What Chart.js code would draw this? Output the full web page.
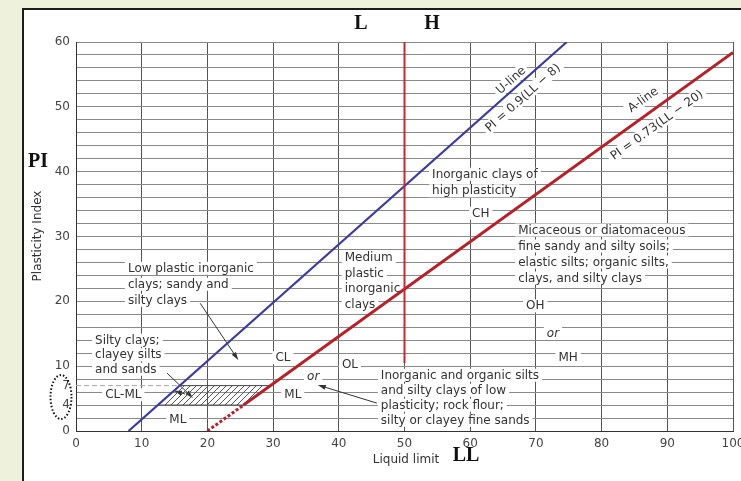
<!DOCTYPE html>
<html>
<head>
<meta charset="utf-8">
<script src="https://cdn.jsdelivr.net/npm/chart.js@4"></script>
<style>
  html, body { margin: 0; padding: 0; background: #eef1dc; overflow: hidden; }
  #wrap { position: absolute; left: 0; top: 0; width: 760px; height: 481px; }
</style>
</head>
<body>
<div id="wrap"><canvas id="chart" width="760" height="481"></canvas></div>
<script>
// ---- Plasticity chart data (liquid limit LL vs plasticity index PI) ----
const llTickValues = [0, 10, 20, 30, 40, 50, 60, 70, 80, 90, 100];
const piLabelValues = [0, 4, 7, 10, 20, 30, 40, 50, 60];

// U-line: PI = 0.9(LL - 8)
const uLineLL = [8, 74.7];
const uLinePI = [0, 60];
// A-line: PI = 0.73(LL - 20), dashed below PI = 4
const aLineLL = [20, 25.5, 100];
const aLinePI = [0, 4, 58.4];
// Low / high plasticity boundary at LL = 50
const boundaryLL = [50, 50];
const boundaryPI = [10.5, 60];
// CL-ML zone between PI 4 and 7
const clmlLL = [12.4, 25.5, 29.6, 15.8];
const clmlPI = [4, 4, 7, 7];
// PI = 7 guide
const pi7LL = [0, 15.8];
const pi7PI = [7, 7];

const pts = (xs, ys) => xs.map((x, i) => ({ x, y: ys[i] }));

// Zone descriptions (anchored in LL / PI units)
const blockNotes = [
  { lines: ['Inorganic clays of', 'high plasticity'], ll: 54.2, pi: 39.6, lh: 16.5 },
  { lines: ['Micaceous or diatomaceous', 'fine sandy and silty soils;', 'elastic silts; organic silts,', 'clays, and silty clays'], ll: 67.3, pi: 31.0, lh: 16 },
  { lines: ['Medium', 'plastic', 'inorganic', 'clays'], ll: 40.9, pi: 26.8, lh: 15.7 },
  { lines: ['Low plastic inorganic', 'clays; sandy and', 'silty clays'], ll: 7.9, pi: 25.1, lh: 16 },
  { lines: ['Silty clays;', 'clayey silts', 'and sands'], ll: 2.9, pi: 14.0, lh: 14.5 },
  { lines: ['Inorganic and organic silts', 'and silty clays of low', 'plasticity; rock flour;', 'silty or clayey fine sands'], ll: 46.4, pi: 8.6, lh: 15 }
];
const symbolNotes = [
  { text: 'CH', ll: 61.6, pi: 33.6 },
  { text: 'OH', ll: 69.9, pi: 19.3 },
  { text: 'or', ll: 72.6, pi: 15.1, italic: true },
  { text: 'MH', ll: 74.9, pi: 11.3 },
  { text: 'CL', ll: 31.5, pi: 11.3 },
  { text: 'OL', ll: 41.7, pi: 10.2 },
  { text: 'or', ll: 36.1, pi: 8.5, italic: true },
  { text: 'ML', ll: 33.0, pi: 5.6 },
  { text: 'CL-ML', ll: 7.2, pi: 5.6 },
  { text: 'ML', ll: 15.5, pi: 1.85 }
];
const lineNotes = [
  { text: 'U-line', ll: 66.2, pi: 54.1, along: 'u' },
  { text: 'PI = 0.9(LL − 8)', ll: 68.0, pi: 51.4, along: 'u' },
  { text: 'A-line', ll: 86.3, pi: 51.1, along: 'a' },
  { text: 'PI = 0.73(LL − 20)', ll: 88.4, pi: 47.2, along: 'a' }
];
const arrows = [
  { from: [18.9, 19.7], to: [24.7, 10.95] },
  { from: [13.85, 8.95], to: [17.8, 5.1] },
  { from: [16.6, 5.7], to: [14.9, 6.2] },
  { from: [45.8, 4.3], to: [36.8, 7.1] }
];

// Diagonal hatch for the CL-ML zone
function hatchPattern() {
  const n = 6;
  const c = document.createElement('canvas');
  c.width = n; c.height = n;
  const g = c.getContext('2d');
  g.strokeStyle = '#555';
  g.lineWidth = 1;
  g.beginPath();
  g.moveTo(0, n); g.lineTo(n, 0);
  g.moveTo(-1, 1); g.lineTo(1, -1);
  g.moveTo(n - 1, n + 1); g.lineTo(n + 1, n - 1);
  g.stroke();
  return g.createPattern(c, 'repeat');
}

const SANS = '"DejaVu Sans", "Liberation Sans", sans-serif';
const SERIF = '"Liberation Serif", "DejaVu Serif", serif';
const TEXT = '#333333';

function boxedText(ctx, text, x, y, align, italic) {
  ctx.font = (italic ? 'italic ' : '') + '12px ' + SANS;
  const w = ctx.measureText(text).width;
  const left = align === 'center' ? x - w / 2 : x;
  ctx.fillStyle = '#ffffff';
  ctx.fillRect(left - 3, y - 6.5, w + 6, 13);
  ctx.fillStyle = TEXT;
  ctx.textAlign = 'left';
  ctx.textBaseline = 'middle';
  ctx.fillText(text, left, y + 0.5);
}

function arrow(ctx, x0, y0, x1, y1) {
  const a = Math.atan2(y1 - y0, x1 - x0);
  ctx.strokeStyle = '#333';
  ctx.fillStyle = '#333';
  ctx.lineWidth = 1;
  ctx.beginPath();
  ctx.moveTo(x0, y0);
  ctx.lineTo(x1 - 5 * Math.cos(a), y1 - 5 * Math.sin(a));
  ctx.stroke();
  ctx.beginPath();
  ctx.moveTo(x1, y1);
  ctx.lineTo(x1 - 8 * Math.cos(a) + 2.5 * Math.sin(a), y1 - 8 * Math.sin(a) - 2.5 * Math.cos(a));
  ctx.lineTo(x1 - 8 * Math.cos(a) - 2.5 * Math.sin(a), y1 - 8 * Math.sin(a) + 2.5 * Math.cos(a));
  ctx.closePath();
  ctx.fill();
}

const decorations = {
  id: 'decorations',
  beforeDraw(chart) {
    const ctx = chart.ctx;
    const W = chart.width, H = chart.height;
    ctx.save();
    ctx.fillStyle = '#eef1dc';
    ctx.fillRect(0, 0, W, H);
    ctx.fillStyle = '#ffffff';
    ctx.fillRect(22, 8, W, H);
    ctx.strokeStyle = '#1c1c1c';
    ctx.lineWidth = 2;
    ctx.beginPath();
    ctx.moveTo(23, H); ctx.lineTo(23, 9); ctx.lineTo(W, 9);
    ctx.stroke();
    ctx.restore();
  },
  beforeDatasetsDraw(chart) {
    const ctx = chart.ctx;
    const xs = chart.scales.x, ys = chart.scales.y;
    const px = v => xs.getPixelForValue(v);
    const py = v => ys.getPixelForValue(v);
    ctx.save();
    blockNotes.forEach(b => {
      b.lines.forEach((t, i) => boxedText(ctx, t, px(b.ll), py(b.pi) + i * b.lh, 'left'));
    });
    symbolNotes.forEach(s => boxedText(ctx, s.text, px(s.ll), py(s.pi), 'center', s.italic));

    const ang = (lx, ly) => Math.atan2(py(ly[ly.length - 1]) - py(ly[0]), px(lx[lx.length - 1]) - px(lx[0]));
    const angles = { u: ang(uLineLL, uLinePI), a: ang(aLineLL, aLinePI) };
    lineNotes.forEach(n => {
      ctx.save();
      ctx.translate(px(n.ll), py(n.pi));
      ctx.rotate(angles[n.along]);
      boxedText(ctx, n.text, 0, 0, 'center');
      ctx.restore();
    });
    arrows.forEach(a => arrow(ctx, px(a.from[0]), py(a.from[1]), px(a.to[0]), py(a.to[1])));
    ctx.restore();
  },
  afterDraw(chart) {
    const ctx = chart.ctx;
    ctx.save();
    ctx.fillStyle = '#111';
    ctx.textAlign = 'center';
    ctx.textBaseline = 'middle';
    ctx.font = 'bold 20px ' + SERIF;
    ctx.fillText('L', 361, 24);
    ctx.fillText('H', 432, 24);
    ctx.fillText('PI', 38, 162);
    ctx.fillText('LL', 466, 456);

    ctx.fillStyle = TEXT;
    ctx.font = '12px ' + SANS;
    ctx.fillText('Liquid limit', 406, 460);
    ctx.save();
    ctx.translate(38, 236);
    ctx.rotate(-Math.PI / 2);
    ctx.fillText('Plasticity Index', 0, 0);
    ctx.restore();

    // dotted ring around the 4 and 7 ticks
    ctx.strokeStyle = '#111';
    ctx.lineWidth = 2;
    ctx.setLineDash([1.5, 2]);
    ctx.beginPath();
    ctx.ellipse(61, 397, 10.5, 22, 0, 0, Math.PI * 2);
    ctx.stroke();
    ctx.restore();
  }
};

new Chart(document.getElementById('chart'), {
  type: 'line',
  data: {
    datasets: [
      {
        data: pts(boundaryLL, boundaryPI),
        borderColor: '#d1232e', borderWidth: 2, pointRadius: 0, order: 1
      },
      {
        data: pts(aLineLL, aLinePI),
        borderColor: '#b1242c', borderWidth: 3, pointRadius: 0, order: 2,
        segment: { borderDash: c => (c.p1DataIndex === 1 ? [3, 2] : undefined) }
      },
      {
        data: pts(uLineLL, uLinePI),
        borderColor: '#3b3d99', borderWidth: 2.2, pointRadius: 0, order: 3
      },
      {
        data: pts(pi7LL, pi7PI),
        borderColor: '#a8a8a8', borderWidth: 1, borderDash: [5, 3], pointRadius: 0, order: 4
      },
      {
        data: pts(clmlLL, clmlPI),
        borderColor: '#444', borderWidth: 1, pointRadius: 0, order: 5,
        fill: 'shape', backgroundColor: hatchPattern()
      }
    ]
  },
  options: {
    responsive: false,
    animation: false,
    events: [],
    layout: { padding: { left: 0, top: 42, right: 27, bottom: 20 } },
    plugins: { legend: { display: false }, tooltip: { enabled: false } },
    elements: { line: { tension: 0 } },
    scales: {
      x: {
        type: 'linear', min: 0, max: 100,
        afterBuildTicks: s => { s.ticks = llTickValues.map(v => ({ value: v })); },
        afterFit: s => { s.height = 30; s.paddingLeft = 0; s.paddingRight = 0; },
        ticks: { color: '#444', padding: 6, font: { family: SANS, size: 12 } },
        grid: { color: '#555', lineWidth: 1, drawTicks: false },
        border: { color: '#333', width: 1 }
      },
      y: {
        type: 'linear', min: 0, max: 60,
        afterBuildTicks: s => {
          const vals = [];
          for (let v = 0; v <= 60; v += 2) vals.push(v);
          vals.push(7);
          vals.sort((a, b) => a - b);
          s.ticks = vals.map(v => ({ value: v }));
        },
        afterFit: s => { s.width = 76; },
        ticks: {
          color: '#444', padding: 6, autoSkip: false, font: { family: SANS, size: 12 },
          callback: v => (piLabelValues.includes(v) ? String(v) : '')
        },
        grid: {
          color: c => (c.tick && c.tick.value === 7 ? 'rgba(0,0,0,0)' : '#8a8a8a'),
          lineWidth: 1, drawTicks: false
        },
        border: { color: '#333', width: 1 }
      }
    }
  },
  plugins: [decorations]
});
</script>
</body>
</html>
